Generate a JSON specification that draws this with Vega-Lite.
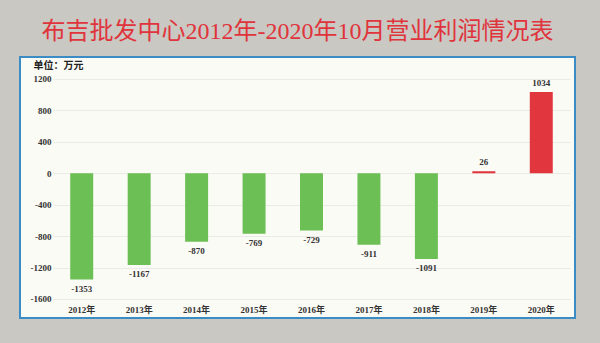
{
  "$schema": "https://vega.github.io/schema/vega-lite/v6.json",
  "width": 555,
  "height": 261,
  "autosize": {"type": "none"},
  "padding": {"left": 20, "top": 57, "right": 25, "bottom": 25},
  "background": "#c9c8c3",
  "title": {
    "text": "布吉批发中心2012年-2020年10月营业利润情况表",
    "color": "#e0343c",
    "font": "Liberation Serif, Noto Sans CJK SC",
    "fontSize": 24,
    "fontWeight": "normal",
    "anchor": "middle",
    "frame": "group",
    "offset": 13
  },
  "config": {
    "view": {"fill": "#fbfbf6", "stroke": "#3b8cc4", "strokeWidth": 2},
    "axis": {
      "labelFont": "Liberation Serif, Noto Sans CJK SC",
      "labelFontWeight": "bold",
      "labelColor": "#333333",
      "labelFontSize": 9,
      "domain": false,
      "ticks": false
    }
  },
  "data": {
    "values": [
      {"year": "2012年", "profit": -1353},
      {"year": "2013年", "profit": -1167},
      {"year": "2014年", "profit": -870},
      {"year": "2015年", "profit": -769},
      {"year": "2016年", "profit": -729},
      {"year": "2017年", "profit": -911},
      {"year": "2018年", "profit": -1091},
      {"year": "2019年", "profit": 26},
      {"year": "2020年", "profit": 1034}
    ]
  },
  "encoding": {
    "x": {
      "field": "year",
      "type": "nominal",
      "sort": null,
      "scale": {"range": [33, 550], "paddingInner": 0.6, "paddingOuter": 0.3},
      "axis": {"title": null, "labelAngle": 0, "offset": -15, "labelPadding": 2, "grid": false}
    },
    "y": {
      "field": "profit",
      "type": "quantitative",
      "scale": {"domain": [-1842, 1480], "nice": false, "zero": false},
      "axis": {
        "values": [-1600, -1200, -800, -400, 0, 400, 800, 1200],
        "labelExpr": "'' + datum.value",
        "offset": -33,
        "labelPadding": 2,
        "grid": true,
        "gridColor": "#ebebe6",
        "gridWidth": 1,
        "title": "单位：万元",
        "titleAngle": 0,
        "titleAlign": "left",
        "titleBaseline": "middle",
        "titleX": -20,
        "titleY": 8,
        "titleFont": "Noto Sans CJK SC",
        "titleFontSize": 10,
        "titleFontWeight": "bold",
        "titleColor": "#222222"
      }
    }
  },
  "layer": [
    {
      "mark": {"type": "bar"},
      "encoding": {
        "y2": {"datum": 0},
        "color": {"condition": {"test": "datum.profit < 0", "value": "#6cbf55"}, "value": "#e2363e"}
      }
    },
    {
      "transform": [{"filter": "datum.profit < 0"}],
      "mark": {"type": "text", "baseline": "top", "dy": 5, "font": "Liberation Serif", "fontWeight": "bold", "fontSize": 9, "color": "#333333"},
      "encoding": {"text": {"field": "profit", "type": "nominal"}}
    },
    {
      "transform": [{"filter": "datum.profit >= 0"}],
      "mark": {"type": "text", "baseline": "bottom", "dy": -4, "font": "Liberation Serif", "fontWeight": "bold", "fontSize": 9, "color": "#333333"},
      "encoding": {"text": {"field": "profit", "type": "nominal"}}
    }
  ]
}
